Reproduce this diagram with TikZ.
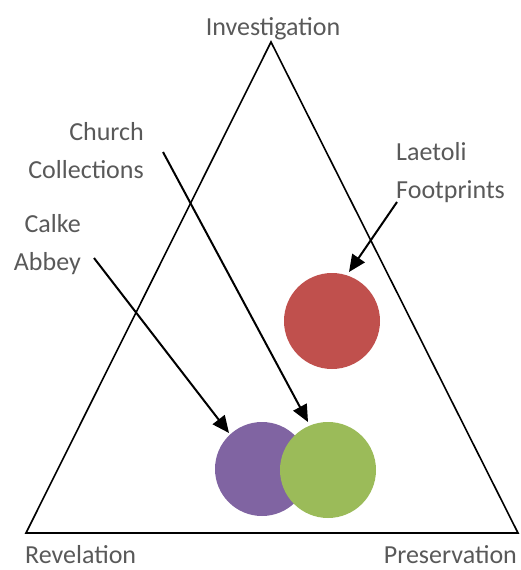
\documentclass[tikz,border=0pt]{standalone}
\usepackage{fontspec}
\setmainfont{Carlito}
\usetikzlibrary{arrows.meta}
\definecolor{txt}{HTML}{595959}
\definecolor{cred}{HTML}{C0504D}
\definecolor{cpurple}{HTML}{8064A2}
\definecolor{cgreen}{HTML}{9BBB59}
\tikzset{
  lbl/.style={text=txt, font=\fontsize{26}{38}\selectfont, inner sep=0pt},
  blob/.style={circle, minimum size=96pt, inner sep=0pt, draw=none},
  arr/.style={line width=2pt, -{Triangle[length=17pt,width=15pt]}},
  tri/.style={line width=1.6pt, line join=miter}
}
\begin{document}
\begin{tikzpicture}[x=1pt,y=-1pt]
\useasboundingbox (0,0) rectangle (520,570);
% triangle
\coordinate (apex) at (271,42);
\coordinate (bl) at (26,533);
\coordinate (br) at (518,533);
\draw[tri] (apex) -- (bl) -- (br) -- cycle;
% corner labels
\node[lbl, anchor=base] (inv) at (273,35) {Investigation};
\node[lbl, anchor=base west] (rev) at (25,563) {Revelation};
\node[lbl, anchor=base east] (pres) at (517,563) {Preservation};
% circles
\node[blob, fill=cred] (red) at (332,321) {};
\node[blob, fill=cpurple, minimum size=94pt] (purple) at (262,469) {};
\node[blob, fill=cgreen] (green) at (328,470) {};
% text labels
\node[lbl, anchor=base east] (church1) at (144,140) {Church};
\node[lbl, anchor=base east] (church2) at (144,178) {Collections};
\node[lbl, anchor=base east] (calke1) at (81,232) {Calke};
\node[lbl, anchor=base east] (calke2) at (81,270) {Abbey};
\node[lbl, anchor=base west] (laetoli1) at (396,160) {Laetoli};
\node[lbl, anchor=base west] (laetoli2) at (396,198) {Footprints};
% arrow ends
\coordinate (cs) at (163,152);
\coordinate (ks) at (94,258);
\coordinate (ls) at (397,202);
\coordinate (ce) at (308,422);
\coordinate (ke) at (229,433);
\coordinate (le) at (349,272);
\draw[arr] (cs) -- (ce);
\draw[arr] (ks) -- (ke);
\draw[arr] (ls) -- (le);
\end{tikzpicture}
\end{document}
